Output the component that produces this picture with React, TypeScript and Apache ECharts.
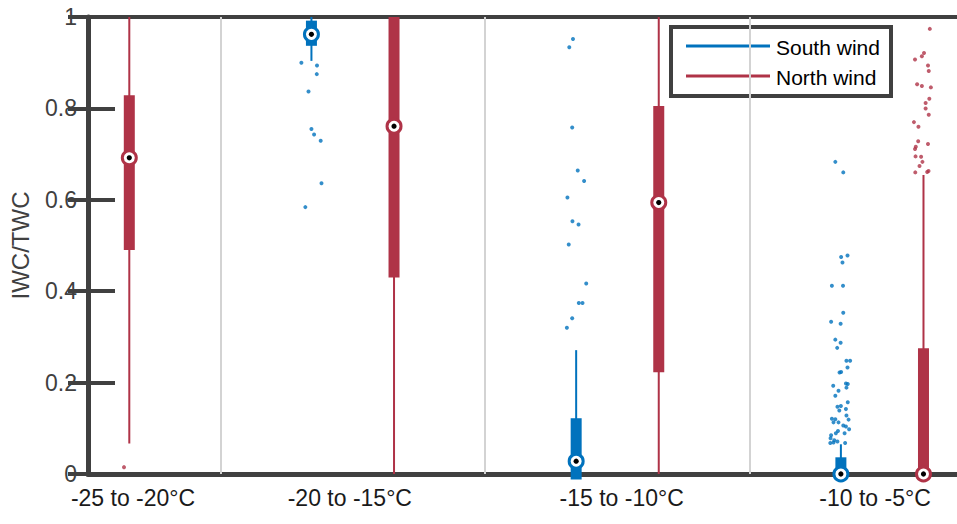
import React, { useEffect, useRef } from "react";
import * as echarts from "echarts";

// Category labels and their label positions (group units)
const CATEGORIES = ["-25 to -20°C", "-20 to -15°C", "-15 to -10°C", "-10 to -5°C"];
const LABEL_POS = [0.17, 0.989, 2.016, 2.973];
const SEPARATORS = [0.5, 1.5, 2.5];
const Y_TICKS = [0, 0.2, 0.4, 0.6, 0.8, 1];

const SERIES_NAMES = ["South wind", "North wind"];
const COLORS = ["#0072BD", "#AF3347"];
const OFFSETS = [-0.156, 0.156];

// [group, lowWhisker, q1, median, q3, highWhisker]
const SOUTH_STATS = [
  [1, 0.904, 0.949, 0.962, 0.98, 1.0],
  [2, 0, 0, 0.028, 0.11, 0.271],
  [3, 0, 0, 0, 0.0245, 0.065],
];
const NORTH_STATS = [
  [0, 0.067, 0.502, 0.692, 0.817, 1.0],
  [1, 0, 0.442, 0.761, 0.988, 1.0],
  [2, 0, 0.2346, 0.594, 0.793, 1.0],
  [3, 0, 0, 0, 0.263, 0.654],
];

// outliers: [group, jitter, value]
const SOUTH_OUTLIERS = [
  [1, -0.038, 0.9], [1, 0.021, 0.894], [1, 0.02, 0.875], [1, -0.011, 0.837], [1, 0, 0.755],
  [1, 0.01, 0.743], [1, 0.035, 0.729], [1, 0.038, 0.636], [1, -0.023, 0.584],
  [2, -0.012, 0.952], [2, -0.026, 0.934], [2, -0.015, 0.758], [2, 0.006, 0.664], [2, 0.03, 0.641],
  [2, -0.033, 0.605], [2, -0.014, 0.553], [2, 0.009, 0.546], [2, -0.028, 0.502], [2, 0.038, 0.417],
  [2, 0.01, 0.374], [2, 0.024, 0.374], [2, -0.015, 0.341], [2, -0.035, 0.32],
  [3, -0.021, 0.683], [3, 0.009, 0.66], [3, 0.001, 0.475], [3, 0.025, 0.478], [3, 0.006, 0.463],
  [3, -0.034, 0.412], [3, 0.008, 0.412], [3, 0.009, 0.353], [3, -0.037, 0.333], [3, -0.001, 0.329],
  [3, -0.021, 0.294], [3, -0.001, 0.287], [3, -0.014, 0.276], [3, 0.021, 0.248], [3, 0.035, 0.248],
  [3, 0.025, 0.233], [3, 0.001, 0.223], [3, -0.005, 0.222], [3, -0.029, 0.193], [3, 0.019, 0.198],
  [3, 0.026, 0.197], [3, 0.021, 0.189], [3, -0.009, 0.182], [3, -0.021, 0.171], [3, 0.026, 0.157],
  [3, -0.013, 0.147], [3, 0, 0.149], [3, -0.006, 0.139], [3, 0.019, 0.142], [3, -0.034, 0.121],
  [3, -0.021, 0.12], [3, 0.021, 0.128], [3, -0.028, 0.113], [3, -0.009, 0.113], [3, 0.029, 0.119],
  [3, 0.009, 0.106], [3, 0.019, 0.104], [3, 0.031, 0.098], [3, -0.011, 0.094], [3, -0.037, 0.085],
  [3, -0.019, 0.089], [3, 0.014, 0.089], [3, -0.039, 0.078], [3, -0.028, 0.069], [3, -0.04, 0.068],
  [3, -0.013, 0.071], [3, 0.016, 0.068], [3, -0.025, 0.074],
];
const NORTH_OUTLIERS = [
  [0, -0.02, 0.015],
  [3, 0.024, 0.974], [3, 0.002, 0.921], [3, -0.006, 0.914], [3, -0.032, 0.907], [3, 0.017, 0.894],
  [3, 0.02, 0.882], [3, -0.024, 0.853], [3, -0.006, 0.849], [3, 0.028, 0.846], [3, 0.022, 0.821],
  [3, 0.008, 0.812], [3, 0.008, 0.8], [3, 0.02, 0.786], [3, -0.036, 0.77], [3, -0.019, 0.76],
  [3, -0.02, 0.728], [3, 0.017, 0.722], [3, -0.029, 0.716], [3, -0.032, 0.711], [3, -0.03, 0.695],
  [3, -0.009, 0.694], [3, -0.004, 0.683], [3, -0.015, 0.674], [3, -0.031, 0.66], [3, 0.014, 0.661],
  [3, 0.019, 0.663],
];

const FONT = "'Liberation Sans', Arial, Helvetica, sans-serif";
const AXIS_COLOR = "#404040";

function boxSeries(name: string, stats: number[][], color: string, offset: number) {
  return {
    type: "custom",
    name,
    z: 3,
    clip: false,
    data: stats.map((s) => [s[0] + offset, s[1], s[2], s[3], s[4], s[5]]),
    encode: { x: 0, y: [1, 2, 3, 4, 5] },
    renderItem: (params: any, api: any) => {
      const x = api.value(0);
      const low = api.coord([x, api.value(1)]);
      const q1 = api.coord([x, api.value(2)]);
      const med = api.coord([x, api.value(3)]);
      const q3 = api.coord([x, api.value(4)]);
      const high = api.coord([x, api.value(5)]);
      const hw = 5.5;
      return {
        type: "group",
        children: [
          {
            type: "line",
            shape: { x1: low[0], y1: low[1], x2: high[0], y2: high[1] },
            style: { stroke: color, lineWidth: 2 },
          },
          {
            type: "rect",
            shape: { x: q1[0] - hw, y: q3[1] - hw, width: hw * 2, height: q1[1] - q3[1] + hw * 2 },
            style: { fill: color },
          },
          {
            type: "circle",
            shape: { cx: med[0], cy: med[1], r: 7 },
            style: { fill: "#fff", stroke: color, lineWidth: 3 },
          },
          {
            type: "circle",
            shape: { cx: med[0], cy: med[1], r: 2.6 },
            style: { fill: "#000" },
          },
        ],
      };
    },
  };
}

function outlierSeries(name: string, pts: number[][], color: string, offset: number, withSep: boolean) {
  const s: any = {
    type: "scatter",
    name,
    z: 2,
    symbol: "circle",
    symbolSize: 4,
    itemStyle: { color },
    data: pts.map((p) => [p[0] + offset + p[1], p[2]]),
  };
  if (withSep) {
    s.markLine = {
      silent: true,
      symbol: "none",
      label: { show: false },
      lineStyle: { color: "#D3D3D3", width: 2, type: "solid" },
      z: 1,
      data: SEPARATORS.map((v) => ({ xAxis: v })),
    };
  }
  return s;
}

export default function App() {
  const ref = useRef<HTMLDivElement>(null);
  useEffect(() => {
    document.body.style.margin = "0";
    const chart = echarts.init(ref.current!, undefined, { renderer: "svg" });
    const xMax = 3.2826;
    const option: any = {
      animation: false,
      backgroundColor: "#fff",
      textStyle: { fontFamily: FONT },
      grid: { left: 87.5, right: 0, top: 17, bottom: 50, containLabel: false },
      xAxis: [
        {
          type: "value",
          min: 0,
          max: xMax,
          position: "bottom",
          axisLine: { show: true, onZero: false, lineStyle: { color: AXIS_COLOR, width: 5 } },
          axisTick: { show: false },
          splitLine: { show: false },
          axisLabel: {
            show: true,
            customValues: LABEL_POS,
            margin: 12,
            fontSize: 23,
            color: "#1a1a1a",
            fontFamily: FONT,
            formatter: (v: number) => {
              const i = LABEL_POS.findIndex((p) => Math.abs(p - v) < 1e-6);
              return i >= 0 ? CATEGORIES[i] : "";
            },
          },
        },
        {
          type: "value",
          min: 0,
          max: xMax,
          position: "top",
          axisLine: { show: true, onZero: false, lineStyle: { color: AXIS_COLOR, width: 4 } },
          axisTick: { show: false },
          axisLabel: { show: false },
          splitLine: { show: false },
        },
      ],
      yAxis: [
        {
          type: "value",
          min: 0,
          max: 1,
          interval: 0.2,
          position: "left",
          name: "IWC/TWC",
          nameLocation: "middle",
          nameGap: 56,
          nameTextStyle: { fontSize: 24, color: AXIS_COLOR, fontFamily: FONT },
          axisLine: { show: true, onZero: false, lineStyle: { color: AXIS_COLOR, width: 5 } },
          axisTick: { show: true, inside: true, length: 27, lineStyle: { color: AXIS_COLOR, width: 4 } },
          axisLabel: {
            show: true,
            margin: 11,
            fontSize: 23,
            color: AXIS_COLOR,
            fontFamily: FONT,
            formatter: (v: number) => {
              const t = Y_TICKS.find((k) => Math.abs(k - v) < 1e-6);
              return t === undefined ? "" : String(t);
            },
          },
          splitLine: { show: false },
        },
        {
          type: "value",
          min: 0,
          max: 1,
          interval: 0.2,
          position: "right",
          axisLine: { show: false },
          axisTick: { show: true, inside: true, length: 20, lineStyle: { color: AXIS_COLOR, width: 4 } },
          axisLabel: { show: false },
          splitLine: { show: false },
        },
      ],
      series: [
        outlierSeries(SERIES_NAMES[0], SOUTH_OUTLIERS, COLORS[0], OFFSETS[0], true),
        outlierSeries(SERIES_NAMES[1], NORTH_OUTLIERS, COLORS[1], OFFSETS[1], false),
        boxSeries(SERIES_NAMES[0], SOUTH_STATS, COLORS[0], OFFSETS[0]),
        boxSeries(SERIES_NAMES[1], NORTH_STATS, COLORS[1], OFFSETS[1]),
      ],
      graphic: [
        {
          type: "group",
          left: 669,
          top: 25,
          z: 100,
          children: [
            {
              type: "rect",
              shape: { x: 2, y: 2, width: 220, height: 69 },
              style: { fill: "#fff", stroke: AXIS_COLOR, lineWidth: 4 },
            },
            {
              type: "line",
              shape: { x1: 17, y1: 21, x2: 101, y2: 21 },
              style: { stroke: COLORS[0], lineWidth: 3 },
            },
            {
              type: "line",
              shape: { x1: 17, y1: 51, x2: 101, y2: 51 },
              style: { stroke: COLORS[1], lineWidth: 3 },
            },
            {
              type: "text",
              x: 107,
              y: 22.5,
              style: { text: SERIES_NAMES[0], fontSize: 21, fontFamily: FONT, fill: "#000", verticalAlign: "middle" },
            },
            {
              type: "text",
              x: 107,
              y: 52.5,
              style: { text: SERIES_NAMES[1], fontSize: 21, fontFamily: FONT, fill: "#000", verticalAlign: "middle" },
            },
          ],
        },
      ],
    };
    chart.setOption(option);
    return () => chart.dispose();
  }, []);
  return <div ref={ref} style={{ width: 957, height: 524 }} />;
}
